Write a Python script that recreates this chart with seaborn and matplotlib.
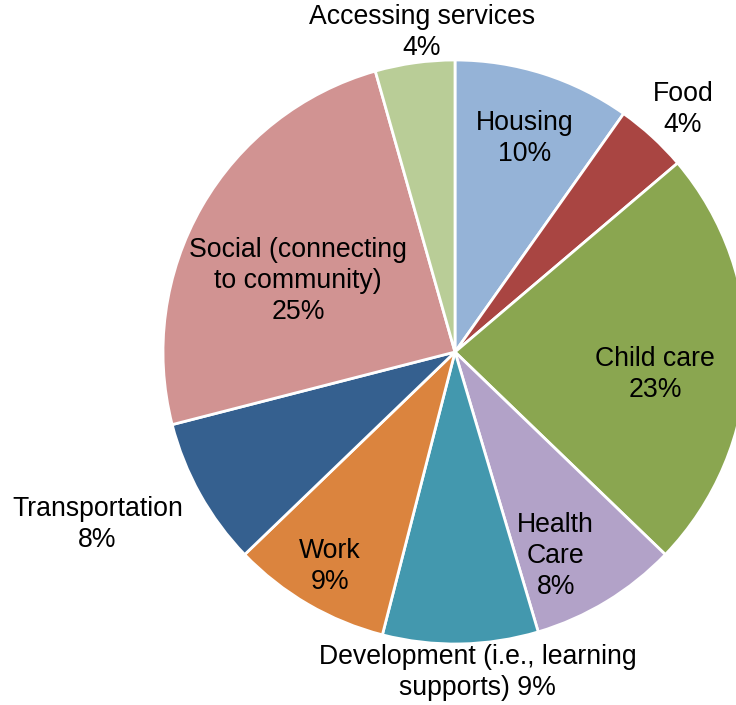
import numpy as np
import matplotlib.pyplot as plt
import seaborn as sns

# --- DATA ---
categories = ['Housing', 'Food', 'Child care', 'Health\nCare',
              'Development (i.e., learning\nsupports)', 'Work', 'Transportation',
              'Social (connecting\nto community)', 'Accessing services']
shares = [9.8, 4.0, 23.4, 8.2, 8.6, 8.8, 8.2, 24.6, 4.4]
pct_sep = ['\n', '\n', '\n', '\n', ' ', '\n', '\n', '\n', '\n']

colors = ['#95B3D7', '#A94542', '#8AA650', '#B2A2C8', '#4398AE',
          '#DB843E', '#35608F', '#D19392', '#B9CD97']
# label placement: distance (in radii) and angle nudge from slice bisector
label_r = [0.77, 1.14, 0.69, 0.78, 1.10, 0.85, 1.36, 0.59, 1.10]
label_dang = [0.4, 0.7, 4.5, 5.1, -3.0, 0.0, 3.4, -5.6, 2.0]

sns.set_theme(style='white')
plt.rcParams['font.family'] = ['Liberation Sans', 'DejaVu Sans']

fig = plt.figure(figsize=(7.36, 7.05), dpi=100)
ax = fig.add_axes([0, 0, 1, 1])

ax.pie(shares, colors=colors, startangle=90, counterclock=False, radius=1,
       wedgeprops=dict(edgecolor='white', linewidth=2))

total = sum(shares)
cum = 0
for name, val, sep, r, da in zip(categories, shares, pct_sep, label_r, label_dang):
    mid = (cum + val / 2) / total * 360 + da
    cum += val
    theta = np.deg2rad(90 - mid)
    ax.text(r * np.cos(theta), r * np.sin(theta), f'{name}{sep}{val:.0f}%',
            ha='center', va='center', fontsize=19.2, color='black',
            linespacing=1.25)

ax.set_xlim(-455 / 292, (736 - 455) / 292)
ax.set_ylim(-(705 - 352) / 292, 352 / 292)
ax.set_aspect('equal')
ax.axis('off')

fig.savefig('out.png', dpi=100)
